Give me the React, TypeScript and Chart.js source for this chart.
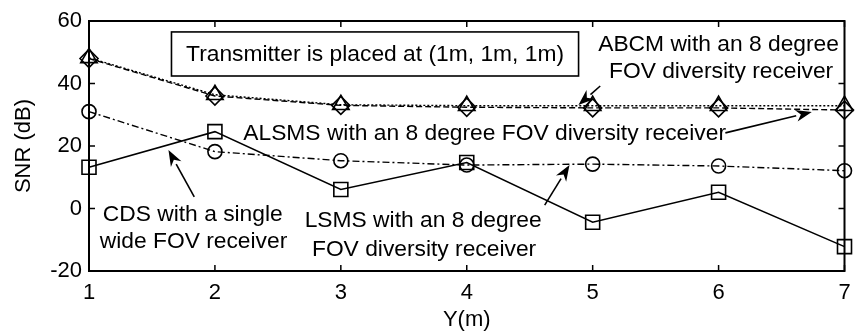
import React, { useEffect, useRef } from "react";
import { Chart, registerables } from "chart.js";

Chart.register(...registerables);

// ---- data ----
const positions = [1, 2, 3, 4, 5, 6, 7];
const abcm = [48.2, 36.4, 33.2, 32.9, 32.9, 32.9, 32.9];
const alsms = [48.0, 36.0, 33.0, 32.4, 32.2, 32.2, 31.5];
const cds = [31.0, 18.2, 15.3, 13.9, 14.2, 13.6, 12.1];
const lsms = [13.2, 24.6, 6.1, 14.7, -4.4, 5.2, -12.2];
const xTickValues = [1, 2, 3, 4, 5, 6, 7];
const yTickValues = [-20, 0, 20, 40, 60];
const xTitle = "Y(m)";
const yTitle = "SNR (dB)";

// annotation texts, placed in data coordinates (x, y = text centre)
const noteLines = [
  { text: "ABCM with an 8 degree", x: 6.0, y: 52.4 },
  { text: "FOV diversity receiver", x: 6.02, y: 43.8 },
  { text: "ALSMS with an 8 degree FOV diversity receiver", x: 4.142, y: 24.0 },
  { text: "CDS with a single", x: 1.824, y: -1.9 },
  { text: "wide FOV receiver", x: 1.83, y: -10.6 },
  { text: "LSMS with an 8 degree", x: 3.654, y: -3.8 },
  { text: "FOV diversity receiver", x: 3.661, y: -13.1 },
];
// arrows: from (x1,y1) to tip (x2,y2), data coordinates
const arrows = [
  { x1: 5.06, y1: 39.2, x2: 4.887, y2: 33.1 },
  { x1: 6.054, y1: 24.2, x2: 6.74, y2: 30.9 },
  { x1: 1.836, y1: 3.7, x2: 1.631, y2: 18.7 },
  { x1: 4.619, y1: 1.1, x2: 4.816, y2: 13.9 },
];
const infoBox = {
  text: "Transmitter is placed at (1m, 1m, 1m)",
  x1: 1.655, x2: 4.888, y1: 56.5, y2: 42.4,
};

const FONT = "'Liberation Sans', Arial, Helvetica, sans-serif";
const FONT_SIZE = 22;
const NOTE_SIZE = 22.8;

const framePlugin = {
  id: "frame",
  afterDraw(chart: any) {
    const { ctx, chartArea } = chart;
    const xs = chart.scales.x;
    const ys = chart.scales.y;
    const { left, right, top, bottom } = chartArea;
    ctx.save();
    ctx.strokeStyle = "#000";
    ctx.fillStyle = "#000";
    // axes box
    ctx.lineWidth = 2;
    ctx.strokeRect(left, top, right - left, bottom - top);
    // inward ticks
    ctx.lineWidth = 1.5;
    const tl = 6;
    ctx.beginPath();
    xTickValues.forEach((v) => {
      const px = xs.getPixelForValue(v);
      ctx.moveTo(px, bottom);
      ctx.lineTo(px, bottom - tl);
      ctx.moveTo(px, top);
      ctx.lineTo(px, top + tl);
    });
    yTickValues.forEach((v) => {
      const py = ys.getPixelForValue(v);
      ctx.moveTo(left, py);
      ctx.lineTo(left + tl, py);
      ctx.moveTo(right, py);
      ctx.lineTo(right - tl, py);
    });
    ctx.stroke();

    // info box
    const bx1 = xs.getPixelForValue(infoBox.x1);
    const bx2 = xs.getPixelForValue(infoBox.x2);
    const by1 = ys.getPixelForValue(infoBox.y1);
    const by2 = ys.getPixelForValue(infoBox.y2);
    ctx.fillStyle = "#fff";
    ctx.fillRect(bx1, by1, bx2 - bx1, by2 - by1);
    ctx.lineWidth = 1.6;
    ctx.strokeRect(bx1, by1, bx2 - bx1, by2 - by1);
    ctx.fillStyle = "#000";
    ctx.font = `${NOTE_SIZE}px ${FONT}`;
    ctx.textAlign = "center";
    ctx.textBaseline = "middle";
    ctx.fillText(infoBox.text, (bx1 + bx2) / 2, (by1 + by2) / 2 + 1);

    // annotation texts
    noteLines.forEach((n) => {
      ctx.fillText(n.text, xs.getPixelForValue(n.x), ys.getPixelForValue(n.y));
    });

    // arrows
    arrows.forEach((a) => {
      const x1 = xs.getPixelForValue(a.x1);
      const y1 = ys.getPixelForValue(a.y1);
      const x2 = xs.getPixelForValue(a.x2);
      const y2 = ys.getPixelForValue(a.y2);
      const ang = Math.atan2(y2 - y1, x2 - x1);
      const hl = 16;
      const hw = 6;
      const bxp = x2 - hl * Math.cos(ang);
      const byp = y2 - hl * Math.sin(ang);
      ctx.lineWidth = 1.6;
      ctx.beginPath();
      ctx.moveTo(x1, y1);
      ctx.lineTo(bxp, byp);
      ctx.stroke();
      ctx.beginPath();
      ctx.moveTo(x2, y2);
      ctx.lineTo(bxp + hw * Math.sin(ang), byp - hw * Math.cos(ang));
      ctx.lineTo(x2 - (hl * 0.7) * Math.cos(ang), y2 - (hl * 0.7) * Math.sin(ang));
      ctx.lineTo(bxp - hw * Math.sin(ang), byp + hw * Math.cos(ang));
      ctx.closePath();
      ctx.fill();
    });
    ctx.restore();
  },
};

function toPoints(vals: number[]) {
  return positions.map((x, i) => ({ x, y: vals[i] }));
}

export default function App() {
  const canvasRef = useRef<HTMLCanvasElement | null>(null);

  useEffect(() => {
    const canvas = canvasRef.current;
    if (!canvas) return;
    const common = {
      borderColor: "#000",
      pointBorderColor: "#000",
      pointBackgroundColor: "rgba(0,0,0,0)",
      backgroundColor: "rgba(0,0,0,0)",
      pointBorderWidth: 1.6,
      fill: false,
      tension: 0,
      clip: false as any,
    };
    const chart = new Chart(canvas, {
      type: "line",
      data: {
        datasets: [
          {
            ...common,
            label: "ABCM",
            data: toPoints(abcm),
            borderWidth: 1.4,
            borderDash: [2, 2],
            pointStyle: "triangle",
            pointRadius: 9.5,
          },
          {
            ...common,
            label: "ALSMS",
            data: toPoints(alsms),
            borderWidth: 1.4,
            borderDash: [6, 3],
            pointStyle: "rectRot",
            pointRadius: 9,
          },
          {
            ...common,
            label: "CDS",
            data: toPoints(cds),
            borderWidth: 1.4,
            borderDash: [7, 3, 2, 3],
            pointStyle: "circle",
            pointRadius: 7,
          },
          {
            ...common,
            label: "LSMS",
            data: toPoints(lsms),
            borderWidth: 1.6,
            pointStyle: "rect",
            pointRadius: 9.9,
          },
        ],
      },
      options: {
        animation: false,
        responsive: false,
        maintainAspectRatio: false,
        layout: { padding: { left: 0, right: 6, top: 21, bottom: 0 } },
        plugins: { legend: { display: false }, tooltip: { enabled: false } },
        font: { family: FONT, size: FONT_SIZE },
        scales: {
          x: {
            type: "linear",
            min: 1,
            max: 7,
            afterBuildTicks: (s: any) => {
              s.ticks = xTickValues.map((v) => ({ value: v }));
            },
            ticks: {
              color: "#000",
              padding: 9,
              maxRotation: 0,
              autoSkip: false,
              font: { family: FONT, size: FONT_SIZE },
            },
            grid: { display: false, drawTicks: false },
            border: { display: false },
            title: {
              display: true,
              text: xTitle,
              color: "#000",
              padding: { top: 0, bottom: 0 },
              font: { family: FONT, size: FONT_SIZE },
            },
            afterFit: (s: any) => {
              s.height = 62;
              s.paddingLeft = 0;
              s.paddingRight = 0;
            },
          },
          y: {
            type: "linear",
            min: -20,
            max: 60,
            afterBuildTicks: (s: any) => {
              s.ticks = yTickValues.map((v) => ({ value: v }));
            },
            ticks: {
              color: "#000",
              padding: 7,
              autoSkip: false,
              font: { family: FONT, size: FONT_SIZE },
            },
            grid: { display: false, drawTicks: false },
            border: { display: false },
            title: {
              display: true,
              text: yTitle,
              color: "#000",
              padding: { top: 11, bottom: 0 },
              font: { family: FONT, size: FONT_SIZE },
            },
            afterFit: (s: any) => {
              s.width = 89;
              s.paddingTop = 0;
              s.paddingBottom = 0;
            },
          },
        },
      } as any,
      plugins: [framePlugin],
    });
    return () => chart.destroy();
  }, []);

  return (
    <div
      style={{
        position: "fixed",
        left: 0,
        top: 0,
        width: 856,
        height: 333,
        background: "#fff",
      }}
    >
      <canvas ref={canvasRef} width={856} height={333} style={{ display: "block" }} />
    </div>
  );
}
